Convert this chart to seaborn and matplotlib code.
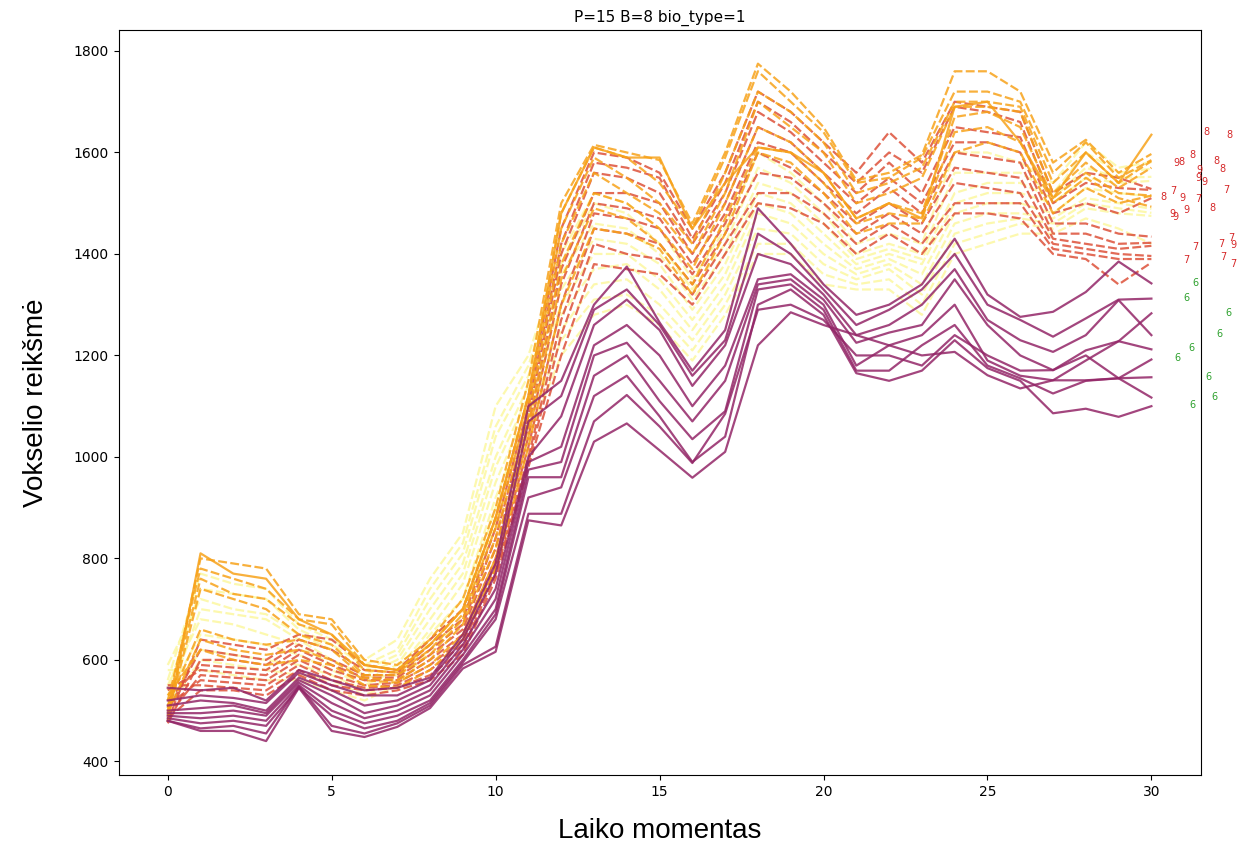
import numpy as np
import pandas as pd
import matplotlib
matplotlib.use("Agg")
import matplotlib.pyplot as plt
import seaborn as sns

# ==============================
# Data
# ==============================

time_steps = list(range(31))

# class 6 - solid purple
class6_lines = [
    [545, 540, 545, 520, 580, 560, 540, 545, 565, 650, 790, 1100, 1150, 1300, 1375, 1265, 1170, 1250, 1490, 1420, 1340, 1280, 1300, 1340, 1430, 1320, 1276, 1286, 1325, 1385, 1342],
    [520, 530, 525, 515, 575, 550, 530, 530, 560, 640, 770, 1070, 1120, 1290, 1330, 1260, 1160, 1230, 1440, 1400, 1330, 1260, 1290, 1330, 1400, 1300, 1270, 1237, 1273, 1310, 1312],
    [510, 520, 515, 500, 565, 540, 510, 520, 550, 630, 740, 1000, 1080, 1260, 1310, 1250, 1140, 1220, 1400, 1380, 1320, 1240, 1260, 1300, 1370, 1270, 1230, 1207, 1240, 1309, 1240],
    [500, 505, 510, 495, 560, 530, 495, 510, 540, 620, 720, 990, 1020, 1220, 1260, 1200, 1100, 1180, 1350, 1360, 1310, 1225, 1245, 1260, 1350, 1260, 1200, 1171, 1210, 1228, 1283],
    [495, 495, 500, 490, 555, 515, 485, 500, 530, 610, 700, 975, 990, 1200, 1225, 1150, 1070, 1150, 1340, 1350, 1300, 1180, 1220, 1240, 1300, 1190, 1160, 1151, 1190, 1228, 1212],
    [490, 485, 490, 480, 550, 500, 475, 490, 520, 600, 690, 960, 960, 1160, 1200, 1110, 1035, 1090, 1330, 1340, 1290, 1170, 1170, 1220, 1260, 1180, 1155, 1125, 1150, 1155, 1192],
    [485, 475, 480, 470, 545, 490, 465, 480, 515, 595, 680, 920, 940, 1120, 1160, 1080, 990, 1040, 1300, 1330, 1280, 1165, 1150, 1170, 1230, 1175, 1150, 1086, 1095, 1079, 1100],
    [480, 465, 470, 455, 548, 470, 455, 475, 510, 590, 626, 888, 888, 1070, 1122, 1060, 988, 1085, 1290, 1300, 1270, 1200, 1200, 1180, 1240, 1200, 1170, 1171, 1200, 1155, 1117],
    [480, 460, 460, 440, 545, 460, 448, 468, 505, 583, 616, 875, 865, 1030, 1066, 1013, 959, 1010, 1220, 1285, 1260, 1240, 1220, 1200, 1207, 1161, 1135, 1151, 1151, 1155, 1157],
]

# class 7 - dashed red
class7_lines = [
    [480, 640, 630, 620, 650, 640, 590, 580, 640, 700, 880, 1120, 1450, 1600, 1590, 1560, 1450, 1560, 1720, 1680, 1620, 1560, 1640, 1580, 1700, 1690, 1680, 1520, 1560, 1550, 1528],
    [500, 620, 610, 600, 640, 620, 580, 575, 630, 680, 860, 1100, 1420, 1580, 1570, 1550, 1430, 1540, 1700, 1660, 1600, 1540, 1600, 1560, 1690, 1680, 1660, 1500, 1540, 1530, 1526],
    [475, 600, 600, 590, 630, 600, 570, 570, 620, 670, 840, 1080, 1400, 1560, 1550, 1520, 1420, 1520, 1680, 1640, 1580, 1520, 1580, 1520, 1650, 1640, 1630, 1480, 1500, 1480, 1510],
    [520, 590, 585, 580, 620, 590, 565, 565, 610, 660, 820, 1060, 1370, 1520, 1520, 1500, 1400, 1500, 1650, 1620, 1560, 1500, 1550, 1500, 1620, 1620, 1600, 1460, 1460, 1440, 1434],
    [540, 580, 575, 570, 610, 580, 560, 560, 600, 650, 800, 1040, 1340, 1500, 1490, 1470, 1380, 1480, 1620, 1600, 1540, 1480, 1530, 1480, 1600, 1590, 1580, 1440, 1440, 1420, 1422],
    [490, 570, 565, 560, 600, 570, 550, 555, 590, 640, 790, 1020, 1300, 1480, 1470, 1450, 1360, 1460, 1600, 1570, 1520, 1460, 1500, 1460, 1570, 1560, 1550, 1430, 1420, 1410, 1416],
    [510, 560, 555, 550, 590, 560, 545, 550, 580, 630, 780, 1000, 1270, 1450, 1440, 1420, 1340, 1440, 1560, 1550, 1500, 1440, 1480, 1440, 1540, 1530, 1520, 1420, 1410, 1400, 1396],
    [550, 550, 545, 540, 580, 550, 540, 545, 570, 620, 770, 990, 1240, 1420, 1400, 1390, 1320, 1420, 1520, 1520, 1480, 1420, 1460, 1420, 1500, 1500, 1500, 1410, 1400, 1390, 1390],
    [485, 540, 540, 530, 570, 540, 530, 540, 560, 610, 760, 980, 1200, 1380, 1370, 1360, 1300, 1400, 1500, 1490, 1460, 1400, 1440, 1400, 1480, 1480, 1470, 1400, 1390, 1340, 1383],
]

# class 8 - orange (first one drawn solid)
class8_lines = [
    [480, 810, 770, 760, 680, 650, 590, 580, 630, 700, 880, 1120, 1480, 1610, 1590, 1590, 1450, 1540, 1610, 1600, 1560, 1470, 1500, 1470, 1690, 1700, 1620, 1510, 1600, 1540, 1635],
    [505, 800, 790, 780, 690, 680, 600, 590, 640, 720, 900, 1150, 1500, 1615, 1600, 1585, 1460, 1600, 1775, 1720, 1650, 1545, 1560, 1595, 1760, 1760, 1720, 1580, 1625, 1560, 1597],
    [520, 780, 760, 740, 680, 670, 590, 580, 630, 700, 880, 1120, 1480, 1610, 1590, 1540, 1450, 1590, 1760, 1700, 1640, 1540, 1550, 1590, 1720, 1720, 1700, 1560, 1620, 1550, 1585],
    [500, 760, 730, 720, 670, 650, 580, 575, 620, 690, 860, 1100, 1450, 1590, 1550, 1500, 1420, 1560, 1720, 1680, 1620, 1520, 1540, 1570, 1700, 1700, 1690, 1540, 1600, 1540, 1583],
    [490, 740, 720, 700, 650, 630, 570, 570, 610, 680, 840, 1080, 1420, 1560, 1520, 1480, 1400, 1520, 1700, 1650, 1600, 1500, 1520, 1550, 1690, 1690, 1680, 1520, 1580, 1530, 1570],
    [510, 660, 640, 630, 640, 620, 565, 560, 600, 670, 820, 1060, 1380, 1520, 1500, 1450, 1370, 1500, 1650, 1620, 1560, 1470, 1500, 1480, 1670, 1680, 1650, 1510, 1560, 1520, 1515],
    [495, 640, 620, 610, 620, 600, 560, 555, 590, 650, 800, 1040, 1350, 1490, 1470, 1420, 1340, 1470, 1610, 1600, 1540, 1460, 1480, 1470, 1640, 1650, 1620, 1500, 1550, 1510, 1493],
    [530, 620, 600, 590, 600, 590, 550, 545, 580, 640, 780, 1020, 1300, 1450, 1440, 1410, 1320, 1440, 1600, 1580, 1520, 1440, 1460, 1460, 1600, 1620, 1600, 1480, 1530, 1500, 1515],
]

# class 9 - dashed pale yellow
class9_lines = [
    [560, 770, 750, 740, 670, 640, 600, 640, 760, 850, 1100, 1200, 1400, 1520, 1500, 1450, 1350, 1450, 1600, 1560, 1500, 1420, 1440, 1420, 1600, 1600, 1580, 1540, 1620, 1570, 1581],
    [540, 740, 730, 720, 660, 630, 590, 620, 740, 830, 1060, 1180, 1380, 1500, 1480, 1420, 1330, 1420, 1570, 1540, 1480, 1400, 1420, 1400, 1560, 1560, 1560, 1520, 1600, 1560, 1568],
    [590, 720, 700, 690, 650, 620, 580, 610, 720, 810, 1040, 1160, 1360, 1460, 1450, 1400, 1310, 1400, 1540, 1520, 1460, 1390, 1410, 1390, 1520, 1540, 1540, 1510, 1570, 1550, 1552],
    [520, 700, 690, 680, 640, 600, 570, 600, 700, 790, 1000, 1140, 1330, 1430, 1420, 1380, 1290, 1380, 1520, 1500, 1440, 1380, 1400, 1380, 1500, 1520, 1520, 1500, 1550, 1540, 1544],
    [550, 680, 670, 650, 630, 590, 560, 590, 680, 770, 980, 1120, 1300, 1400, 1400, 1350, 1270, 1360, 1500, 1480, 1420, 1370, 1390, 1360, 1480, 1500, 1500, 1480, 1530, 1520, 1513],
    [530, 650, 640, 630, 610, 580, 550, 580, 660, 750, 950, 1100, 1280, 1370, 1380, 1330, 1250, 1340, 1480, 1460, 1400, 1360, 1380, 1340, 1460, 1480, 1480, 1470, 1510, 1500, 1489],
    [510, 620, 610, 600, 590, 570, 540, 570, 650, 720, 920, 1080, 1250, 1340, 1350, 1300, 1230, 1320, 1450, 1440, 1380, 1350, 1370, 1320, 1440, 1460, 1470, 1460, 1500, 1490, 1481],
    [500, 600, 590, 580, 570, 560, 530, 560, 640, 700, 900, 1060, 1230, 1310, 1320, 1280, 1210, 1300, 1420, 1420, 1360, 1340, 1350, 1300, 1420, 1440, 1460, 1450, 1490, 1480, 1475],
    [580, 580, 570, 560, 560, 540, 520, 550, 620, 680, 870, 1040, 1200, 1280, 1300, 1260, 1190, 1280, 1400, 1400, 1340, 1330, 1330, 1280, 1400, 1420, 1440, 1440, 1470, 1450, 1420],
]

# end-of-series class labels
label_text = ["8", "8", "9", "8", "8", "9", "9", "9", "8", "8", "8", "7", "9", "7", "7",
              "9", "9", "9", "8", "7", "7", "7", "7", "9", "7", "7",
              "6", "6", "6", "6", "6", "6", "6", "6", "6"]
label_x = [31.68, 32.38, 30.76, 30.91, 31.25, 31.46, 31.43, 31.62, 31.98, 32.16, 30.37, 30.67, 30.95, 31.43, 32.29,
           30.64, 30.73, 31.07, 31.86, 31.34, 31.07, 32.13, 32.44, 32.50, 32.20, 32.50,
           31.34, 31.07, 32.35, 32.07, 31.22, 30.79, 31.74, 31.92, 31.25]
label_y = [1640, 1634, 1579, 1581, 1595, 1565, 1550, 1542, 1583, 1567, 1512, 1524, 1510, 1508, 1526,
           1479, 1473, 1486, 1490, 1413, 1388, 1419, 1431, 1417, 1394, 1380,
           1343, 1313, 1283, 1242, 1214, 1195, 1157, 1118, 1102]

# ==============================
# Long-form table
# ==============================

rows = []
line_id = 0
for cls, lines in [(9, class9_lines), (7, class7_lines), (8, class8_lines), (6, class6_lines)]:
    for k, vals in enumerate(lines):
        solid = cls == 6 or (cls == 8 and k == 0)
        for t, v in zip(time_steps, vals):
            rows.append({"t": t, "value": v, "line": line_id, "cls": cls,
                         "kind": "solid" if solid else "dashed"})
        line_id += 1
df = pd.DataFrame(rows)

palette = {6: "#932667", 7: "#dd513a", 8: "#f7a21a", 9: "#fcf7a0"}

# ==============================
# Plot
# ==============================

fig, ax = plt.subplots(figsize=(12.48, 8.48), dpi=100)
fig.subplots_adjust(left=0.095, right=0.962, top=0.965, bottom=0.086)

for cls in [9, 7, 8, 6]:
    sub = df[df["cls"] == cls]
    sns.lineplot(data=sub, x="t", y="value", hue="cls", style="kind",
                 units="line", estimator=None, palette=palette,
                 style_order=["solid", "dashed"],
                 dashes={"solid": "", "dashed": (4, 1.5)},
                 linewidth=1.6, alpha=0.85, legend=False, ax=ax)

for txt, lx, ly in zip(label_text, label_x, label_y):
    ax.text(lx, ly, txt, fontsize=7, ha="center", va="center",
            color="tab:green" if txt == "6" else "tab:red")

ax.set_xlim(-1.5, 31.5)
ax.set_ylim(373, 1842)
ax.set_xticks([0, 5, 10, 15, 20, 25, 30])
ax.set_title("P=15 B=8 bio_type=1", fontsize=11)
ax.set_xlabel("Laiko momentas", fontsize=20, family="Liberation Sans", labelpad=14)
ax.set_ylabel("Vokselio reikšmė", fontsize=20, family="Liberation Sans", labelpad=18)

fig.savefig("out.png", dpi=100)
